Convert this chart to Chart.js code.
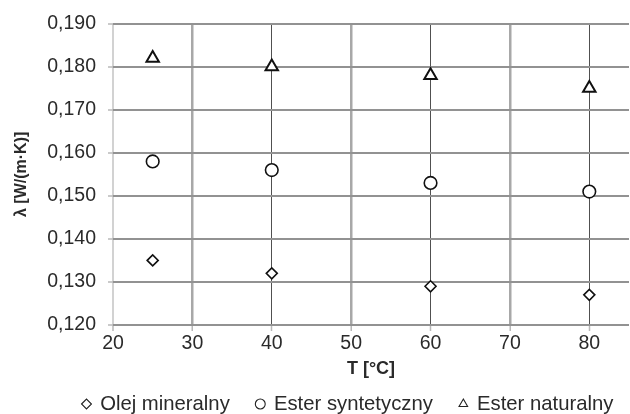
<!DOCTYPE html>
<html>
<head>
<meta charset="utf-8">
<script src="https://cdn.jsdelivr.net/npm/chart.js@4/dist/chart.umd.min.js"></script>
<style>
  html, body { margin: 0; padding: 0; background: #ffffff; }
  #wrap { width: 630px; height: 414px; position: relative; }
</style>
</head>
<body>
<div id="wrap"><canvas id="c" width="630" height="414"></canvas></div>
<script>
// ---- data ----
const temperatures = [25, 40, 60, 80];
const olejMineralny = [0.135, 0.132, 0.129, 0.127];
const esterSyntetyczny = [0.158, 0.156, 0.153, 0.151];
const esterNaturalny = [0.182, 0.180, 0.178, 0.175];
const seriesNames = ['Olej mineralny', 'Ester syntetyczny', 'Ester naturalny'];
const xTicks = [20, 30, 40, 50, 60, 70, 80];
const yTicks = [0.12, 0.13, 0.14, 0.15, 0.16, 0.17, 0.18, 0.19];
const xTitle = 'T [°C]';
const yTitle = 'λ [W/(m·K)]';

const FONT = '"Liberation Sans", Arial, Helvetica, sans-serif';

function pts(ys) { return temperatures.map((t, i) => ({ x: t, y: ys[i] })); }

const legendShift = {
  id: 'legendShift',
  afterLayout(chart) {
    const lg = chart.legend;
    if (!lg) return;
    const pad = lg.options.labels.padding;
    const fs = lg.options.labels.font.size;
    lg.left = 83 - pad;
    lg.right = 900;
    lg.top = 404 - pad - fs / 2;
    lg.bottom = 414;
    lg.width = lg.right - lg.left;
    lg.height = lg.bottom - lg.top;
  }
};

new Chart(document.getElementById('c'), {
  type: 'scatter',
  data: {
    datasets: [
      { label: seriesNames[0], data: pts(olejMineralny), pointStyle: 'rectRot', pointRadius: 5.5, pointHoverRadius: 5.5,
        borderColor: '#111', backgroundColor: '#fff', borderWidth: 1.6, showLine: false },
      { label: seriesNames[1], data: pts(esterSyntetyczny), pointStyle: 'circle', pointRadius: 6.3, pointHoverRadius: 6.3,
        borderColor: '#111', backgroundColor: '#fff', borderWidth: 1.6, showLine: false },
      { label: seriesNames[2], data: pts(esterNaturalny), pointStyle: 'triangle', pointRadius: 7.2, pointHoverRadius: 7.2,
        borderColor: '#111', backgroundColor: '#fff', borderWidth: 2, showLine: false }
    ]
  },
  options: {
    responsive: false,
    animation: false,
    devicePixelRatio: 1,
    layout: { autoPadding: false, padding: { top: 22, right: 1, bottom: 0, left: 0 } },
    plugins: {
      tooltip: { enabled: false },
      legend: {
        position: 'bottom',
        align: 'start',
        maxHeight: 1,
        labels: {
          usePointStyle: true,
          boxWidth: 7,
          boxHeight: 7,
          padding: 27,
          color: '#2a2a2a',
          font: { family: FONT, size: 20.3 },
          generateLabels(chart) {
            return chart.data.datasets.map((ds, i) => ({
              text: ds.label,
              fillStyle: '#fff',
              strokeStyle: '#222',
              lineWidth: 1.1,
              pointStyle: ds.pointStyle,
              fontColor: '#2a2a2a',
              hidden: false,
              datasetIndex: i
            }));
          }
        }
      }
    },
    scales: {
      x: {
        type: 'linear',
        min: 20,
        max: 85,
        afterBuildTicks(scale) { scale.ticks = xTicks.map(v => ({ value: v })); },
        afterFit(scale) { scale.height = 88; scale.paddingLeft = 0; scale.paddingRight = 0; },
        ticks: { color: '#2a2a2a', font: { family: FONT, size: 19.5 }, padding: 1, maxRotation: 0 },
        grid: {
          color: (c) => {
            const v = c.tick ? c.tick.value : null;
            if (v === 20) return '#d2d2d2';
            if (v === 40 || v === 60 || v === 80) return '#505050';
            return '#a8a8a8';
          },
          lineWidth: (c) => {
            const v = c.tick ? c.tick.value : null;
            if (v === 40 || v === 60 || v === 80) return 1;
            if (v === 20) return 2;
            return 2.5;
          },
          tickColor: '#b8b8b8',
          tickWidth: 1.5,
          tickLength: 6
        },
        border: { display: false },
        title: { display: true, text: xTitle, color: '#2a2a2a', font: { family: FONT, size: 18, weight: 'bold' }, padding: { top: 0, bottom: 33 } }
      },
      y: {
        type: 'linear',
        min: 0.12,
        max: 0.19,
        afterBuildTicks(scale) { scale.ticks = yTicks.map(v => ({ value: v })); },
        afterFit(scale) { scale.width = 113; },
        ticks: {
          color: '#2a2a2a',
          font: { family: FONT, size: 19.5 },
          padding: 12,
          callback: (v) => Number(v).toFixed(3).replace('.', ',')
        },
        grid: { color: '#929292', lineWidth: 2, tickColor: '#b8b8b8', tickWidth: 1.5, tickLength: 5 },
        border: { display: false },
        title: { display: true, text: yTitle, color: '#2a2a2a', font: { family: FONT, size: 16, weight: 'bold' }, padding: { top: 12, bottom: 0 } }
      }
    }
  },
  plugins: [legendShift]
});
</script>
</body>
</html>
